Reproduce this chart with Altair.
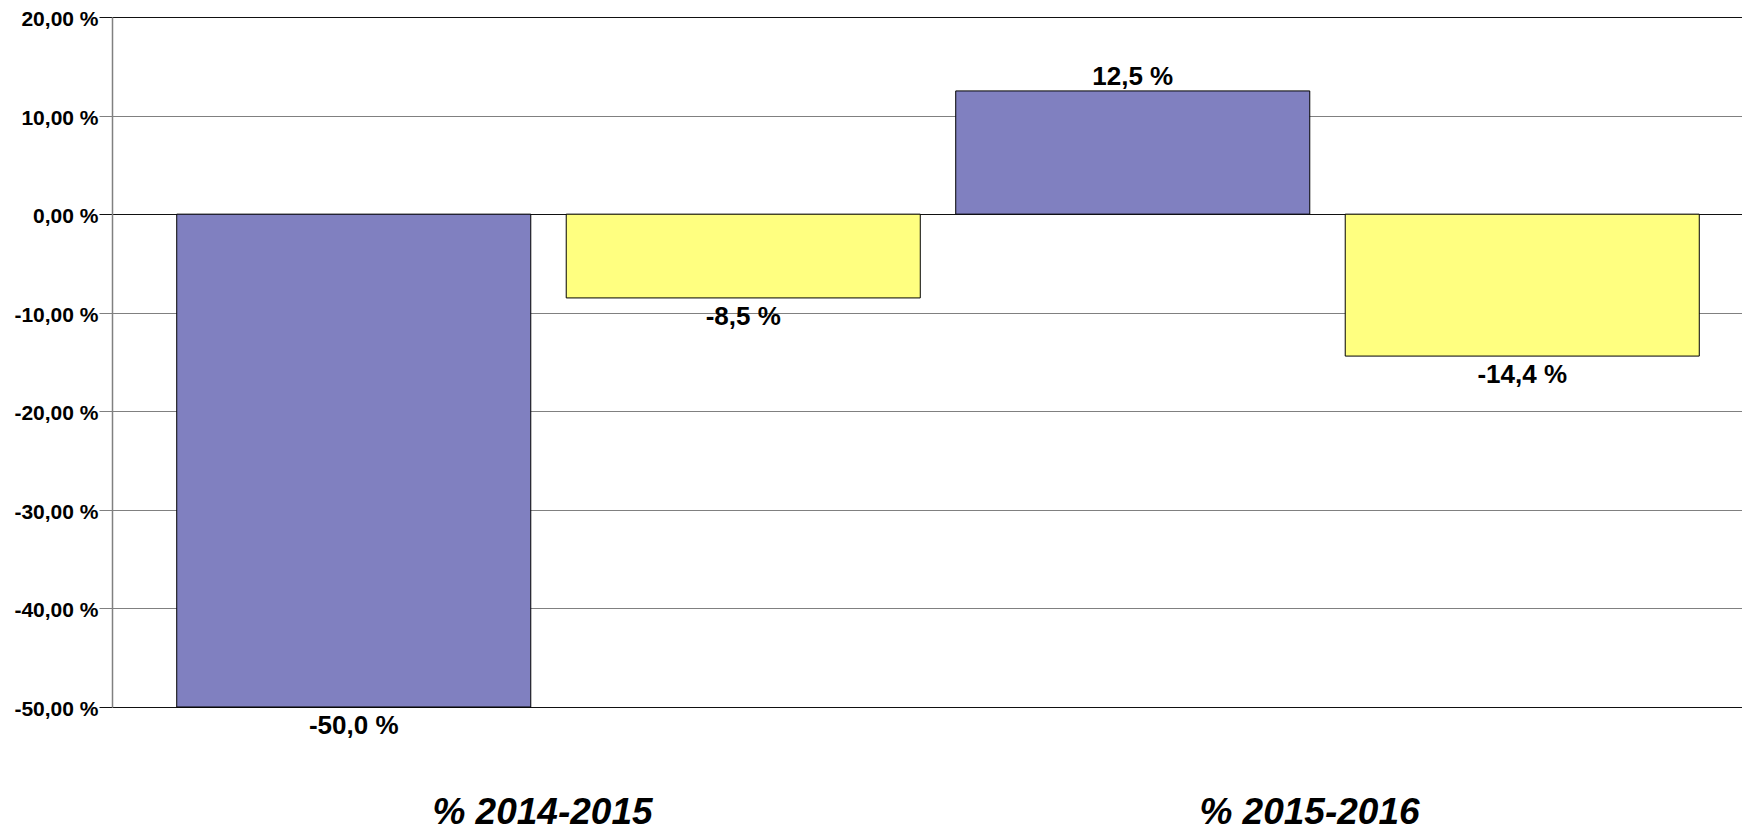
import altair as alt
import pandas as pd

# ---- data ----
categories = ["% 2014-2015", "% 2015-2016"]
series_names = ["Série 1", "Série 2"]
series_1 = [-50.0, 12.5]
series_2 = [-8.5, -14.4]
y_ticks = [20, 10, 0, -10, -20, -30, -40, -50]
dark_lines = [20, 0, -50]
colors = ["#8080C0", "#FFFF80"]

rows = []
for i, c in enumerate(categories):
    rows.append({"cat": c, "series": series_names[0], "value": series_1[i]})
    rows.append({"cat": c, "series": series_names[1], "value": series_2[i]})
df = pd.DataFrame(rows)

FONT = "Liberation Sans"
dark_test = " || ".join(f"datum.value == {v}" for v in dark_lines)

y_label_expr = ("(datum.value < 0 ? '-' : '') + "
                "replace(format(abs(datum.value), '.2f'), '.', ',') + ' %'")
val_label_expr = ("(datum.value < 0 ? '-' : '') + "
                  "replace(format(abs(datum.value), '.1f'), '.', ',') + ' %'")

x_enc = alt.X(
    "cat:N",
    sort=categories,
    scale=alt.Scale(paddingInner=0, paddingOuter=0.04621, align=0.6528),
    axis=alt.Axis(
        title=None, labelAngle=0, labelFont=FONT, labelFontStyle="italic",
        labelFontWeight="bold", labelFontSize=37, labelColor="black",
        ticks=False, tickSize=0, domain=False, grid=False, labelLimit=0,
        labelPadding=116, labelBaseline="alphabetic",
        labelOffset={"condition": {"test": f"datum.value == '{categories[0]}'", "value": -6},
                     "value": -18},
    ),
)
xoff_enc = alt.XOffset(
    "series:N", sort=series_names,
    scale=alt.Scale(paddingInner=0.091, paddingOuter=0.0455),
)
y_enc = alt.Y(
    "value:Q",
    scale=alt.Scale(domain=[-50, 20], nice=False, zero=False),
    axis=alt.Axis(
        values=y_ticks, labelExpr=y_label_expr, title=None, grid=True,
        gridColor={"condition": {"test": dark_test, "value": "#111111"}, "value": "#808080"},
        tickColor={"condition": {"test": dark_test, "value": "#111111"}, "value": "#808080"},
        gridWidth=1, domainColor="#808080", domainWidth=1.5,
        tickSize=13, labelPadding=1, labelOffset=2.5, labelFont=FONT, labelFontSize=21,
        labelFontWeight="bold", labelColor="black",
    ),
)

base = alt.Chart(df).transform_calculate(label=val_label_expr)

bars = base.mark_bar(stroke="black", strokeWidth=1).encode(
    x=x_enc, xOffset=xoff_enc, y=y_enc,
    color=alt.Color("series:N", scale=alt.Scale(domain=series_names, range=colors), legend=None),
)

pos_text = base.transform_filter("datum.value >= 0").mark_text(
    baseline="alphabetic", dy=-6, fontSize=26, fontWeight="bold", font=FONT, color="black"
).encode(x=x_enc, xOffset=xoff_enc, y=y_enc, text="label:N")

neg_text = base.transform_filter("datum.value < 0").mark_text(
    baseline="top", dy=6, fontSize=26, fontWeight="bold", font=FONT, color="black"
).encode(x=x_enc, xOffset=xoff_enc, y=y_enc, text="label:N")

chart = alt.layer(bars, pos_text, neg_text).properties(
    width=1630, height=690,
    autosize=alt.AutoSizeParams(type="none"),
    padding={"left": 104, "top": 9, "right": 0, "bottom": 124},
    background="white",
).configure_view(stroke="transparent")

chart.save("out.html", embed_options={"renderer": "svg", "actions": False})
